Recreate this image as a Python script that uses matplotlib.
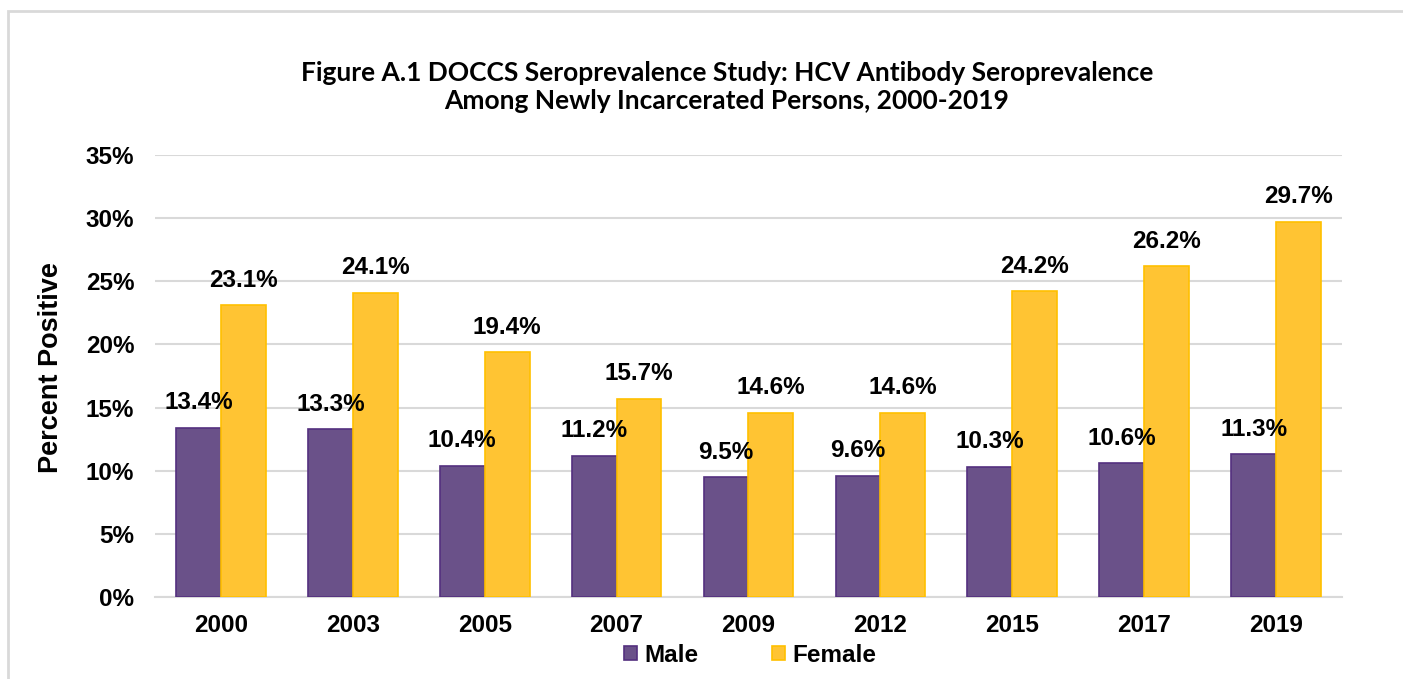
import numpy as np
import matplotlib.pyplot as plt
from matplotlib.patches import Rectangle

years = ['2000', '2003', '2005', '2007', '2009', '2012', '2015', '2017', '2019']
male = [13.4, 13.3, 10.4, 11.2, 9.5, 9.6, 10.3, 10.6, 11.3]
female = [23.1, 24.1, 19.4, 15.7, 14.6, 14.6, 24.2, 26.2, 29.7]

purple = '#6A5189'
purple_edge = '#54307F'
gold = '#FFC433'
gold_edge = '#FFC000'
grid_c = '#D9D9D9'

W, H = 1403, 679
fig = plt.figure(figsize=(W / 100, H / 100), dpi=100)
ax = fig.add_axes([155 / W, 1 - 597 / H, (1342 - 155) / W, (597 - 155) / H])

# light frame around the chart
fig.patches.append(Rectangle((8 / W, -0.05), 1.2, 1 - 11 / H + 0.05, transform=fig.transFigure,
                             fill=False, edgecolor='#D9D9D9', linewidth=2))

x = np.arange(len(years))
bw = 0.34
bm = ax.bar(x - bw / 2, male, bw, color=purple, edgecolor=purple_edge, linewidth=1.2, label='Male', zorder=3)
bf = ax.bar(x + bw / 2, female, bw, color=gold, edgecolor=gold_edge, linewidth=1.2, label='Female', zorder=3)

lab_font = dict(family='Liberation Sans', weight='bold', size=17.5)
for bars, vals in ((bm, male), (bf, female)):
    for b, v in zip(bars, vals):
        ax.annotate(f'{v:.1f}%', (b.get_x() + b.get_width() / 2, v), xytext=(0, 18),
                    textcoords='offset points', ha='center', va='center', **lab_font)

ax.set_xlim(-0.5, len(years) - 0.5)
ax.set_ylim(0, 35)
ax.set_yticks(range(0, 36, 5))
ax.set_yticklabels([f'{t}%' for t in range(0, 36, 5)], **lab_font)
ax.set_xticks(x)
ax.set_xticklabels(years, **lab_font)
ax.tick_params(length=0)
ax.tick_params(axis='y', pad=15)
ax.tick_params(axis='x', pad=12)
ax.grid(axis='y', color=grid_c, linewidth=1.5, zorder=0)
for s in ('top', 'right', 'left'):
    ax.spines[s].set_visible(False)
ax.spines['bottom'].set_color(grid_c)
ax.spines['bottom'].set_linewidth(1.5)

ax.set_ylabel('Percent Positive', family='Liberation Sans', weight='bold', size=19.5)
ax.yaxis.set_label_coords(-0.0765, 0.518)

fig.text(727 / W, 1 - 87 / H,
         'Figure A.1 DOCCS Seroprevalence Study: HCV Antibody Seroprevalence\n'
         'Among Newly Incarcerated Persons, 2000-2019',
         ha='center', va='center', family='Lato', weight='bold', size=19, linespacing=1.2)

fig.legend(handles=[bm, bf], loc='center', bbox_to_anchor=(750 / W, 1 - 655 / H), ncol=2,
           frameon=False, prop=dict(family='Liberation Sans', weight='bold', size=17.5),
           handlelength=0.55, handleheight=0.55, handletextpad=0.3, columnspacing=3.0)

fig.savefig('out.png', dpi=100)
